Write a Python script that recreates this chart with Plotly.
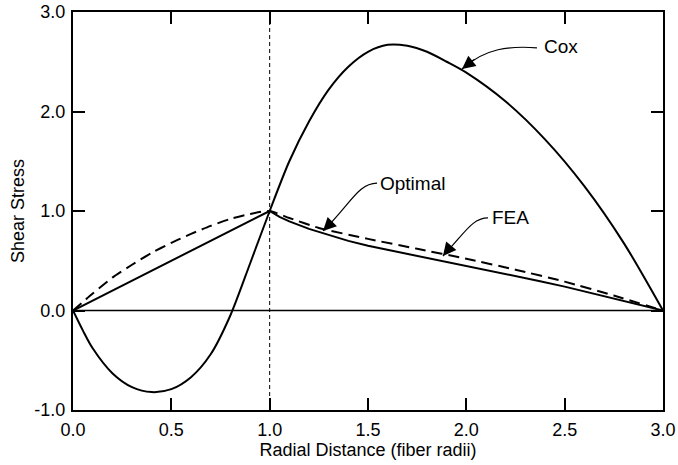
import plotly.graph_objects as go

# ---- data ----
cox_x = [0.0, 0.05, 0.1, 0.2, 0.3, 0.4, 0.5, 0.6, 0.7, 0.8, 0.9, 1.0, 1.1, 1.2, 1.3, 1.4, 1.5, 1.6, 1.7,
         1.8, 1.9, 2.0, 2.2, 2.4, 2.6, 2.8, 3.0]
cox_y = [0.0, -0.2, -0.38, -0.63, -0.77, -0.82, -0.79, -0.67, -0.44, -0.05, 0.47, 1.0, 1.5, 1.9, 2.22,
         2.45, 2.6, 2.67, 2.66, 2.6, 2.5, 2.39, 2.1, 1.72, 1.25, 0.68, 0.0]

opt_x = [0.0, 1.0, 1.05, 1.1, 1.2, 1.3, 1.4, 1.5, 1.625, 1.75, 1.875, 2.0, 2.125, 2.25, 2.375, 2.5, 2.625,
         2.75, 2.875, 3.0]
opt_y = [0.0, 1.0, 0.94, 0.895, 0.82, 0.76, 0.70, 0.65, 0.60, 0.55, 0.50, 0.45, 0.40, 0.35, 0.295, 0.24,
         0.18, 0.12, 0.06, 0.0]

fea_x = [0.0, 0.1, 0.2, 0.3, 0.4, 0.5, 0.6, 0.7, 0.8, 0.9, 1.0, 1.1, 1.25, 1.5, 1.75, 2.0, 2.25, 2.5, 2.75, 3.0]
fea_y = [0.0, 0.17, 0.33, 0.46, 0.58, 0.68, 0.77, 0.85, 0.92, 0.97, 1.0, 0.93, 0.83, 0.72, 0.62, 0.52, 0.41,
         0.29, 0.15, 0.0]

x_ticks = [0.0, 0.5, 1.0, 1.5, 2.0, 2.5, 3.0]
x_tick_labels = ["0.0", "0.5", "1.0", "1.5", "2.0", "2.5", "3.0"]
y_ticks = [-1.0, 0.0, 1.0, 2.0, 3.0]
y_tick_labels = ["-1.0", "0.0", "1.0", "2.0", "3.0"]

FONT = "Liberation Sans, Arial, Helvetica, sans-serif"
FS = 18

fig = go.Figure()
fig.add_trace(go.Scatter(x=[0, 3], y=[0, 0], mode="lines", line=dict(color="black", width=1.5),
                         hoverinfo="skip"))
fig.add_trace(go.Scatter(x=fea_x, y=fea_y, mode="lines", name="FEA",
                         line=dict(color="black", width=2, dash="11px,6px", shape="spline", smoothing=0.6)))
fig.add_trace(go.Scatter(x=opt_x, y=opt_y, mode="lines", name="Optimal",
                         line=dict(color="black", width=2, shape="linear")))
fig.add_trace(go.Scatter(x=cox_x, y=cox_y, mode="lines", name="Cox",
                         line=dict(color="black", width=2, shape="spline", smoothing=0.8)))

# vertical dashed line at x = 1
fig.add_shape(type="line", xref="x", yref="paper", x0=1, x1=1, y0=0, y1=1,
              line=dict(color="black", width=1, dash="4px,3px"))

# curved leader lines
leaders = [
    "M 2.359,2.640 C 2.222,2.660 2.095,2.640 1.978,2.427",
    "M 1.546,1.281 C 1.449,1.281 1.408,1.060 1.271,0.800",
    "M 2.110,0.930 C 2.029,0.930 1.993,0.779 1.881,0.548",
]
for p in leaders:
    fig.add_shape(type="path", xref="x", yref="y", path=p, line=dict(color="black", width=1.2))

labels = [("Cox", 2.385, 2.655, 1.978, 2.427, 14, -11),
          ("Optimal", 1.551, 1.281, 1.271, 0.800, 10, -10),
          ("FEA", 2.120, 0.930, 1.881, 0.548, 9, -11)]
for txt, tx, ty, hx, hy, ax, ay in labels:
    fig.add_annotation(x=tx, y=ty, text=txt, showarrow=False, xanchor="left", yanchor="middle",
                       font=dict(family=FONT, size=19, color="black"))
    fig.add_annotation(x=hx, y=hy, ax=ax, ay=ay, axref="pixel", ayref="pixel", text="",
                       showarrow=True, arrowhead=2, arrowsize=2.2, arrowwidth=1.2, arrowcolor="black")

axis_common = dict(showline=True, linecolor="black", linewidth=2, mirror="ticks", ticks="inside",
                   ticklen=12, tickwidth=1.5, tickcolor="black", showgrid=False, zeroline=False,
                   automargin=False, tickfont=dict(family=FONT, size=FS, color="black"))

fig.update_layout(
    width=678, height=465,
    margin=dict(l=73, r=15, t=12, b=55),
    plot_bgcolor="white", paper_bgcolor="white",
    showlegend=False,
    font=dict(family=FONT, size=FS, color="black"),
    xaxis=dict(range=[0, 3], tickvals=x_ticks, ticktext=x_tick_labels, ticklabelstandoff=2,
               title=dict(text="Radial Distance (fiber radii)", font=dict(family=FONT, size=FS), standoff=4),
               **axis_common),
    yaxis=dict(range=[-1, 3], tickvals=y_ticks, ticktext=y_tick_labels, ticklabelstandoff=2,
               title=dict(text="Shear Stress", font=dict(family=FONT, size=FS), standoff=5),
               **axis_common),
)

fig.write_html("out.html", config={"displayModeBar": False},
               post_script="document.body.style.margin='0px';")
